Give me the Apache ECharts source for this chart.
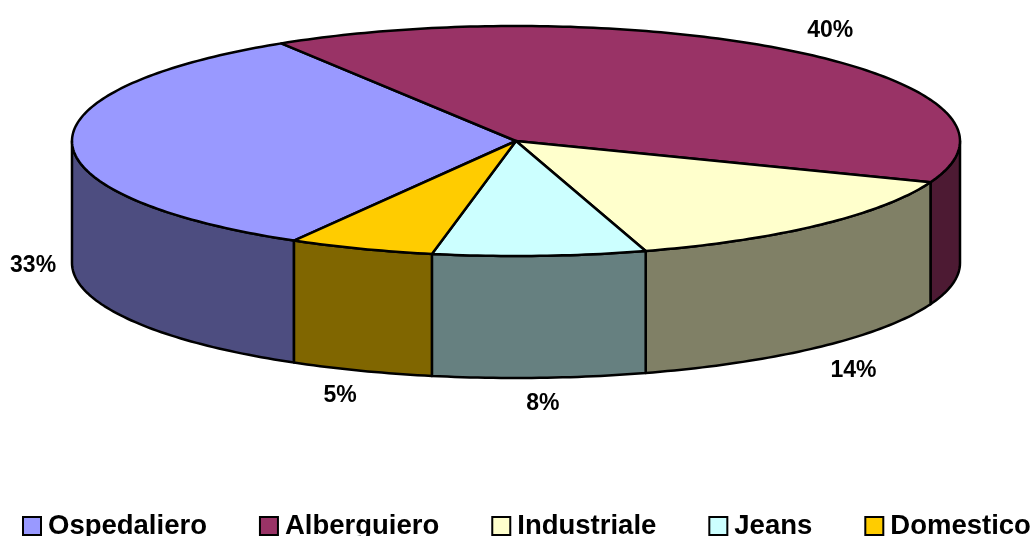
<!DOCTYPE html>
<html>
<head>
<meta charset="utf-8">
<style>
  html, body { margin: 0; padding: 0; background: #fff; }
  #chart { width: 1032px; height: 536px; }
</style>
<script src="https://cdn.jsdelivr.net/npm/echarts@6/dist/echarts.min.js"></script>
</head>
<body>
<div id="chart"></div>
<script>
  var categories = ['Ospedaliero', 'Alberguiero', 'Industriale', 'Jeans', 'Domestico']
  var shares = [32.8, 39.7, 14.45, 7.75, 5.3]
  var colors = ['#9999ff', '#993366', '#ffffcc', '#ccffff', '#ffcc00']
  var sideColors = ['#4d4d80', '#4d1a33', '#808066', '#668080', '#806600']

  // tilted pie geometry, angles in degrees, clockwise from 3 o'clock
  var cx = 516
  var cy = 141
  var rx = 444
  var ry = 115
  var depth = 122
  var startAngle = 120
  var labelNudge = [[6, 0], [3, 0], [4, 3], [1, -2], [-5, -1]]

  var total = shares.reduce(function (a, b) { return a + b }, 0)

  var edgePoint = function (deg, dy) {
    var t = deg * Math.PI / 180
    return [cx + rx * Math.cos(t), cy + ry * Math.sin(t) + dy]
  }

  var arc = function (from, to, dy) {
    var pts = []
    var n = Math.max(2, Math.ceil(Math.abs(to - from)))
    for (var i = 0; i <= n; i++) {
      pts.push(edgePoint(from + (to - from) * i / n, dy))
    }
    return pts
  }

  var sliceRange = function (idx) {
    var before = 0
    for (var i = 0; i < idx; i++) before += shares[i]
    var from = startAngle + before / total * 360
    return [from, from + shares[idx] / total * 360]
  }

  // only the front half of the rim (0-180 deg) shows a side wall
  var wallParts = function (from, to, style) {
    var parts = []
    ;[0, 360].forEach(function (base) {
      var a = Math.max(from, base)
      var b = Math.min(to, base + 180)
      if (a < b) {
        parts.push({
          type: 'polygon',
          shape: { points: arc(a, b, 0).concat(arc(b, a, depth)) },
          style: style
        })
      }
    })
    return parts
  }

  var renderSlice = function (idx) {
    return function () {
      var range = sliceRange(idx)
      var line = { stroke: '#000', lineWidth: 2.5, lineJoin: 'round' }
      var wall = wallParts(range[0], range[1], Object.assign({ fill: sideColors[idx] }, line))
      var top = {
        type: 'polygon',
        shape: { points: [[cx, cy]].concat(arc(range[0], range[1], 0)) },
        style: Object.assign({ fill: colors[idx] }, line)
      }
      var t = (range[0] + range[1]) / 2 * Math.PI / 180
      var sin = Math.sin(t)
      var label = {
        type: 'text',
        x: cx + (rx + 45) * Math.cos(t) + labelNudge[idx][0],
        y: cy + (ry + 28) * sin + (sin > -0.05 ? depth : 0) + labelNudge[idx][1],
        style: {
          text: Math.round(shares[idx]) + '%',
          fill: '#000',
          font: 'bold 23px "Liberation Sans", Arial, sans-serif',
          align: 'center',
          verticalAlign: 'middle'
        }
      }
      return { type: 'group', children: wall.concat([top, label]) }
    }
  }

  var chart = echarts.init(document.getElementById('chart'))
  chart.setOption({
    animation: false,
    legend: {
      data: categories,
      left: 22,
      top: 512,
      width: 1200,
      padding: 0,
      itemGap: 52,
      itemWidth: 18,
      itemHeight: 18,
      icon: 'rect',
      itemStyle: { borderColor: '#000', borderWidth: 2 },
      selectedMode: false,
      textStyle: {
        color: '#000',
        fontFamily: '"Liberation Sans", Arial, sans-serif',
        fontWeight: 'bold',
        fontSize: 27.5,
        padding: [0, 0, 0, 2]
      }
    },
    series: categories.map(function (name, idx) {
      return {
        type: 'custom',
        name: name,
        coordinateSystem: 'none',
        silent: true,
        itemStyle: { color: colors[idx] },
        data: [shares[idx]],
        renderItem: renderSlice(idx)
      }
    })
  })
</script>
</body>
</html>
